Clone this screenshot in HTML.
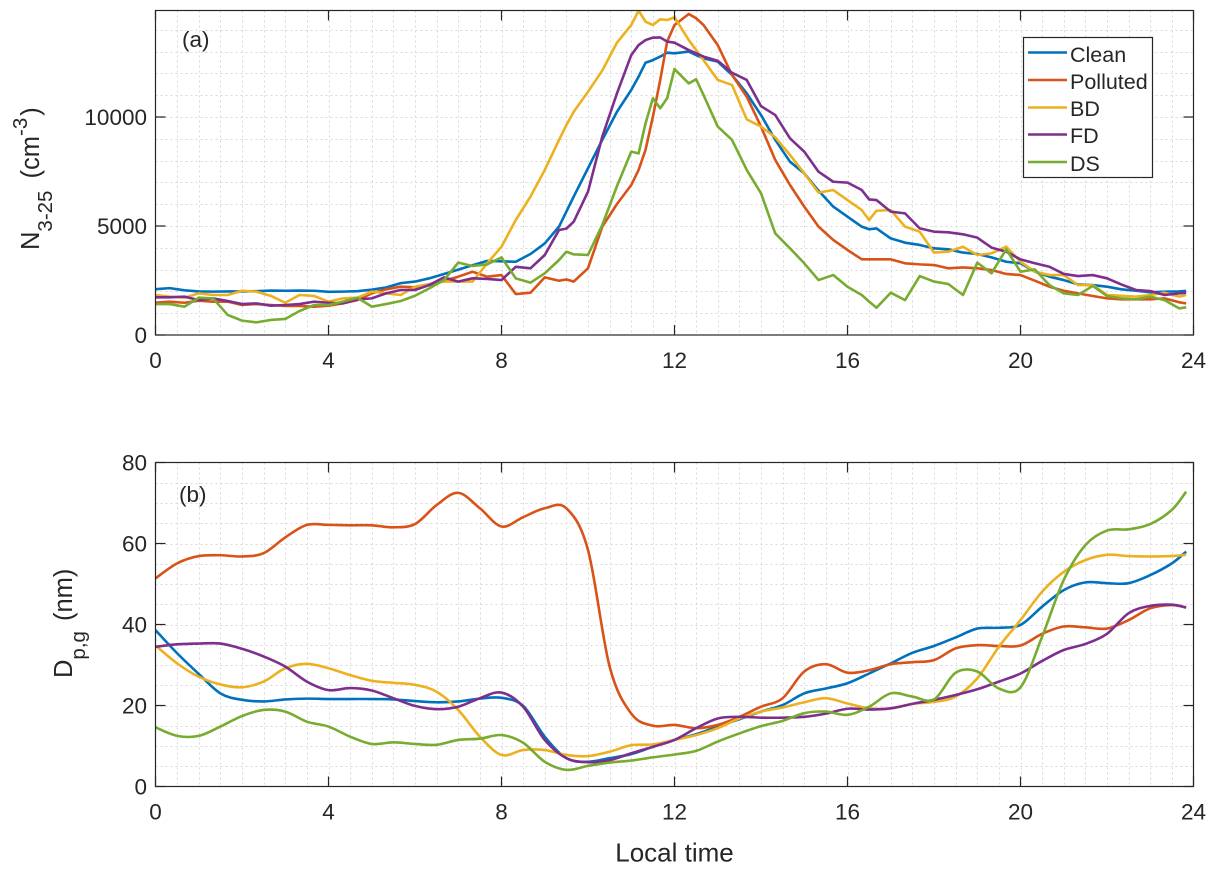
<!DOCTYPE html>
<html lang="en">
<head>
<meta charset="utf-8">
<title>N3-25 and Dp,g diurnal variation</title>
<style>
html,body{margin:0;padding:0;background:#fff;}
svg{display:block;font-family:"Liberation Sans",Arial,sans-serif;fill:#262626;}
</style>
</head>
<body>
<svg id="figure" xmlns="http://www.w3.org/2000/svg" width="1218" height="873" viewBox="0 0 1218 873">
  <rect x="0" y="0" width="1218" height="873" fill="#ffffff"/>
  <defs>
    <clipPath id="clip-a"><rect x="155.5" y="10.5" width="1038" height="324.5"/></clipPath>
    <clipPath id="clip-b"><rect x="155.5" y="462.5" width="1038" height="324"/></clipPath>
  </defs>
  <g id="panel-a"></g>
  <g id="panel-b"></g>

  <text x="182" y="47" font-size="22.5">(a)</text>
  <text x="179" y="502" font-size="22.5">(b)</text>

  <text transform="translate(39,250) rotate(-90)" font-size="25.5">N<tspan font-size="20.5" dy="13">3-25</tspan><tspan dy="-13" dx="5"> (cm</tspan><tspan font-size="20.5" dy="-12">-3</tspan><tspan dy="12" dx="2">)</tspan></text>
  <text transform="translate(72,678) rotate(-90)" font-size="25.5">D<tspan font-size="20.5" dy="13">p,g</tspan><tspan dy="-13" dx="3"> (nm)</tspan></text>
  <text x="674.5" y="861.5" font-size="26" text-anchor="middle">Local time</text>

  <g>
    <rect x="1023.5" y="37.5" width="129" height="140" fill="#ffffff" stroke="#262626" stroke-width="1.2"/>
    <g><line x1="1028" x2="1067" y1="52.5" y2="52.5" stroke="#0072BD" stroke-width="2.6"/><text x="1070" y="62" font-size="21.5">Clean</text></g>
    <g><line x1="1028" x2="1067" y1="80" y2="80" stroke="#D95319" stroke-width="2.6"/><text x="1070" y="89" font-size="21.5">Polluted</text></g>
    <g><line x1="1028" x2="1067" y1="107.5" y2="107.5" stroke="#EDB120" stroke-width="2.6"/><text x="1070" y="116" font-size="21.5">BD</text></g>
    <g><line x1="1028" x2="1067" y1="134.5" y2="134.5" stroke="#7E2F8E" stroke-width="2.6"/><text x="1070" y="143" font-size="21.5">FD</text></g>
    <g><line x1="1028" x2="1067" y1="162" y2="162" stroke="#77AC30" stroke-width="2.6"/><text x="1070" y="171" font-size="21.5">DS</text></g>
  </g>
</svg>

<script>
// ---- shared tick labels ----
var hourTicks = [0, 4, 8, 12, 16, 20, 24];
var yTicksA = [0, 5000, 10000];
var yTicksB = [0, 20, 40, 60, 80];

// ---- panel (a): N3-25 (cm-3) ----
var hoursA = [0,.33,.67,1,1.33,1.67,2,2.33,2.67,3,3.33,3.67,4,4.33,4.67,5,5.33,5.67,6,6.33,6.67,7,7.33,7.67,8,8.33,8.67,9,9.33,9.5,9.67,10,10.33,10.67,11,11.17,11.33,11.5,11.67,11.83,12,12.33,12.5,12.67,13,13.33,13.67,14,14.33,14.67,15,15.33,15.67,16,16.33,16.5,16.67,17,17.33,17.67,18,18.33,18.67,19,19.33,19.67,20,20.33,20.67,21,21.33,21.67,22,22.33,22.67,23,23.33,23.67,23.83];
var cleanA = [2100,2150,2050,2000,1990,2000,2000,2010,2040,2030,2040,2030,1980,1990,2010,2080,2180,2380,2450,2600,2800,3000,3200,3400,3380,3360,3715,4200,4970,5660,6350,7650,8950,10240,11240,11850,12490,12610,12770,12950,12920,13000,12840,12690,12540,11930,11085,10090,8950,7950,7415,6620,5890,5430,4970,4850,4890,4430,4235,4130,3975,3930,3780,3715,3560,3360,3290,2905,2675,2520,2320,2290,2215,2095,2030,1960,1990,2000,2020];
var pollutedA = [1480,1530,1480,1575,1530,1530,1376,1420,1376,1330,1330,1300,1345,1450,1600,1910,2095,2217,2186,2290,2490,2675,2900,2675,2750,1880,1940,2645,2490,2550,2450,3060,4970,6010,6880,7570,8490,10010,11700,13460,14220,14725,14530,14220,13300,11930,10930,9560,8030,6880,5890,4970,4360,3900,3470,3470,3470,3470,3290,3240,3210,3060,3100,3060,2980,2800,2750,2490,2215,2030,1910,1790,1680,1635,1635,1635,1680,1500,1450];
var bdA = [1835,1760,1710,1910,1835,1835,2030,1990,1790,1480,1835,1790,1530,1680,1710,1990,1910,1835,2215,2340,2450,2450,2450,3290,4050,5275,6350,7570,8950,9630,10240,11160,12130,13410,14220,14880,14370,14220,14480,14450,14570,13530,13070,12610,11700,11470,9890,9560,9070,8260,7415,6530,6650,6190,5730,5275,5700,5730,4970,4740,3780,3820,4050,3670,3745,4050,3360,2905,2750,2750,2290,2290,1835,1800,1760,1835,1940,1760,1835];
var fdA = [1730,1730,1760,1600,1680,1560,1420,1450,1345,1376,1420,1530,1480,1450,1635,1680,1910,2064,2064,2290,2645,2450,2600,2570,2520,3130,3060,3670,4815,4880,5200,6575,9100,11085,12840,13300,13530,13640,13650,13460,13410,13070,12920,12770,12580,12030,11700,10500,10090,9020,8410,7490,7030,6990,6650,6220,6190,5660,5580,4890,4740,4710,4620,4465,4010,3820,3470,3290,3130,2800,2705,2750,2600,2320,2064,2018,1835,1910,1940];
var dsA = [1420,1420,1300,1710,1680,920,660,580,690,735,1100,1376,1376,1530,1710,1300,1420,1560,1800,2140,2520,3320,3165,3240,3560,2600,2400,2830,3440,3820,3700,3670,5045,6830,8410,8330,9700,10860,10400,10860,12200,11540,11730,11010,9560,8950,7570,6500,4660,3975,3290,2520,2750,2215,1835,1530,1250,1940,1600,2705,2450,2340,1835,3320,2830,3930,2905,3010,2290,1910,1835,2250,1790,1680,1635,1760,1600,1220,1270];

// ---- panel (b): Dp,g (nm) ----
var hoursB = [0,.5,1,1.5,2,2.5,3,3.5,4,4.5,5,5.5,6,6.5,7,7.5,8,8.5,9,9.5,10,10.5,11,11.5,12,12.5,13,13.5,14,14.5,15,15.5,16,16.5,17,17.5,18,18.5,19,19.5,20,20.5,21,21.5,22,22.5,23,23.5,23.83];
var cleanB = [38.6,32.9,27.8,23,21.4,21,21.5,21.7,21.6,21.6,21.6,21.5,21.1,20.8,21,21.7,21.9,19.9,12.3,7,6.1,7,8,9.8,11.5,12.9,14.8,16.6,18.5,20.1,23,24.2,25.5,27.9,30.4,33,34.7,36.8,39,39.2,39.9,44.4,48.5,50.4,50.2,50.2,52.2,55.1,58];
var pollutedB = [51.4,55.1,56.9,57.1,56.8,57.6,61.5,64.6,64.6,64.5,64.5,64,64.8,69.5,72.5,68.7,64.2,66.5,68.7,68.7,58.4,29.6,18,15,15.2,14.4,15.2,17.2,19.7,21.8,28.4,30.2,28.1,28.7,30.2,30.7,31.2,34.1,34.9,34.7,34.8,37.7,39.5,39.3,39,41.1,44,44.8,44.2];
var bdB = [34.8,30.4,27.1,25.2,24.5,25.9,29.2,30.3,29.2,27.5,26.1,25.6,25.1,23.4,18.9,12.3,7.8,9,9,7.8,7.5,8.6,10.2,10.4,11.5,12.7,14.4,16.8,18.5,19.5,20.8,21.8,20.5,19.3,19.3,20.4,20.9,22.2,26.7,34.5,41.1,48.1,53,55.9,57.2,56.9,56.8,56.9,57.2];
var fdB = [34.5,35.1,35.3,35.3,34,32.1,29.6,25.9,23.8,24.3,23.7,21.8,19.9,19.1,19.7,21.8,23.2,19.7,11.5,7,6,6.5,8.2,9.8,11.5,14.4,16.8,17.2,17,17,17.2,18,19.2,19,19.3,20.4,21.4,22.6,24,25.9,27.9,31,33.7,35.2,37.7,42.8,44.6,44.9,44.2];
var dsB = [14.6,12.5,12.5,14.8,17.4,18.9,18.5,16,14.8,12.3,10.5,10.9,10.5,10.3,11.5,11.8,12.7,10.8,6.1,4.1,5.1,5.9,6.4,7.2,7.9,8.8,11.1,13.1,14.9,16.2,18.1,18.5,17.7,19.7,23,22.2,21.5,28.1,28.4,24.2,24.5,37,51,59.6,63.2,63.5,64.8,68.3,72.8];

var seriesNames = ["clean", "polluted", "bd", "fd", "ds"];
var seriesColors = ["#0072BD", "#D95319", "#EDB120", "#7E2F8E", "#77AC30"];
var seriesA = [cleanA, pollutedA, bdA, fdA, dsA];
var seriesB = [cleanB, pollutedB, bdB, fdB, dsB];

var SVG_NS = "http://www.w3.org/2000/svg";
var LEFT = 155.5, RIGHT = 1193.5;

function xScale(h) { return LEFT + (RIGHT - LEFT) * h / 24; }
function yScaleA(v) { return 335 - 0.0218 * v; }
function yScaleB(v) { return 786.5 - 4.05 * v; }

function makeLine(parent, x1, y1, x2, y2, stroke, width, dash, name) {
  var el = document.createElementNS(SVG_NS, "line");
  el.setAttribute("x1", x1);
  el.setAttribute("y1", y1);
  el.setAttribute("x2", x2);
  el.setAttribute("y2", y2);
  el.setAttribute("stroke", stroke);
  el.setAttribute("stroke-width", width);
  if (dash) el.setAttribute("stroke-dasharray", dash);
  
  
  parent.appendChild(el);
}

function makeText(parent, x, y, str, anchor, name) {
  var el = document.createElementNS(SVG_NS, "text");
  el.setAttribute("x", x);
  el.setAttribute("y", y);
  el.setAttribute("font-size", "22.5");
  el.setAttribute("text-anchor", anchor);
  el.textContent = str;
  
  
  parent.appendChild(el);
}

function polylinePath(xs, ys) {
  var d = "M" + xs[0].toFixed(2) + " " + ys[0].toFixed(2);
  for (var i = 1; i < xs.length; i++) {
    d += "L" + xs[i].toFixed(2) + " " + ys[i].toFixed(2);
  }
  return d;
}

function smoothPath(xs, ys) {
  var d = "M" + xs[0].toFixed(2) + " " + ys[0].toFixed(2);
  for (var i = 0; i < xs.length - 1; i++) {
    var a = Math.max(i - 1, 0), b = Math.min(i + 2, xs.length - 1);
    var c1x = xs[i] + (xs[i + 1] - xs[a]) / 6, c1y = ys[i] + (ys[i + 1] - ys[a]) / 6;
    var c2x = xs[i + 1] - (xs[b] - xs[i]) / 6, c2y = ys[i + 1] - (ys[b] - ys[i]) / 6;
    d += "C" + c1x.toFixed(2) + " " + c1y.toFixed(2) + " " + c2x.toFixed(2) + " " + c2y.toFixed(2) + " " + xs[i + 1].toFixed(2) + " " + ys[i + 1].toFixed(2);
  }
  return d;
}

function drawPanel(cfg) {
  var g = document.getElementById(cfg.id);
  var GRID = "#d9d9d9", DASH = "2 3", AXIS = "#262626";
  var top = cfg.top, bottom = cfg.bottom;

  // dotted vertical grid, every half hour
  for (var k = 1; k < 48; k++) {
    var gx = Math.round(xScale(k / 2)) + 0.5;
    makeLine(g, gx, top, gx, bottom, GRID, 1, DASH, "vertical-grid-line");
  }
  // dotted horizontal grid
  for (var v = cfg.gridStep; cfg.y(v) > top + 1; v += cfg.gridStep) {
    var gy = Math.round(cfg.y(v)) + 0.5;
    makeLine(g, LEFT, gy, RIGHT, gy, GRID, 1, DASH, "horizontal-grid-line");
  }

  // series
  var lines = document.createElementNS(SVG_NS, "g");
  lines.setAttribute("clip-path", "url(#" + cfg.clip + ")");
  
  
  g.appendChild(lines);
  for (var s = 0; s < cfg.series.length; s++) {
    var xs = cfg.hours.map(xScale);
    var ys = cfg.series[s].map(cfg.y);
    var path = document.createElementNS(SVG_NS, "path");
    path.setAttribute("d", cfg.pathFn(xs, ys));
    path.setAttribute("fill", "none");
    path.setAttribute("stroke", seriesColors[s]);
    path.setAttribute("stroke-width", "2.6");
    path.setAttribute("stroke-linejoin", "round");
    
    
    lines.appendChild(path);
  }

  // axes box
  var box = document.createElementNS(SVG_NS, "rect");
  box.setAttribute("x", LEFT);
  box.setAttribute("y", top);
  box.setAttribute("width", RIGHT - LEFT);
  box.setAttribute("height", bottom - top);
  box.setAttribute("fill", "none");
  box.setAttribute("stroke", AXIS);
  box.setAttribute("stroke-width", "1.2");
  
  
  g.appendChild(box);

  // x ticks
  hourTicks.forEach(function (h) {
    var tx = xScale(h);
    makeLine(g, tx, bottom, tx, bottom - 10, AXIS, 1.2, null, "x-tick");
    makeLine(g, tx, top, tx, top + 10, AXIS, 1.2, null, "x-tick-top");
    makeText(g, tx, bottom + 33, String(h), "middle", "x-tick-label");
  });
  // y ticks
  cfg.yTicks.forEach(function (val) {
    var ty = cfg.y(val);
    makeLine(g, LEFT, ty, LEFT + 10, ty, AXIS, 1.2, null, "y-tick");
    makeLine(g, RIGHT, ty, RIGHT - 10, ty, AXIS, 1.2, null, "y-tick-right");
    makeText(g, 147, ty + 8, String(val), "end", "y-tick-label");
  });
}

drawPanel({ id: "panel-a", clip: "clip-a", top: 10.5, bottom: 335, hours: hoursA, series: seriesA, y: yScaleA, yTicks: yTicksA, gridStep: 1000, pathFn: polylinePath });
drawPanel({ id: "panel-b", clip: "clip-b", top: 462.5, bottom: 786.5, hours: hoursB, series: seriesB, y: yScaleB, yTicks: yTicksB, gridStep: 5, pathFn: smoothPath });
</script>
</body>
</html>
